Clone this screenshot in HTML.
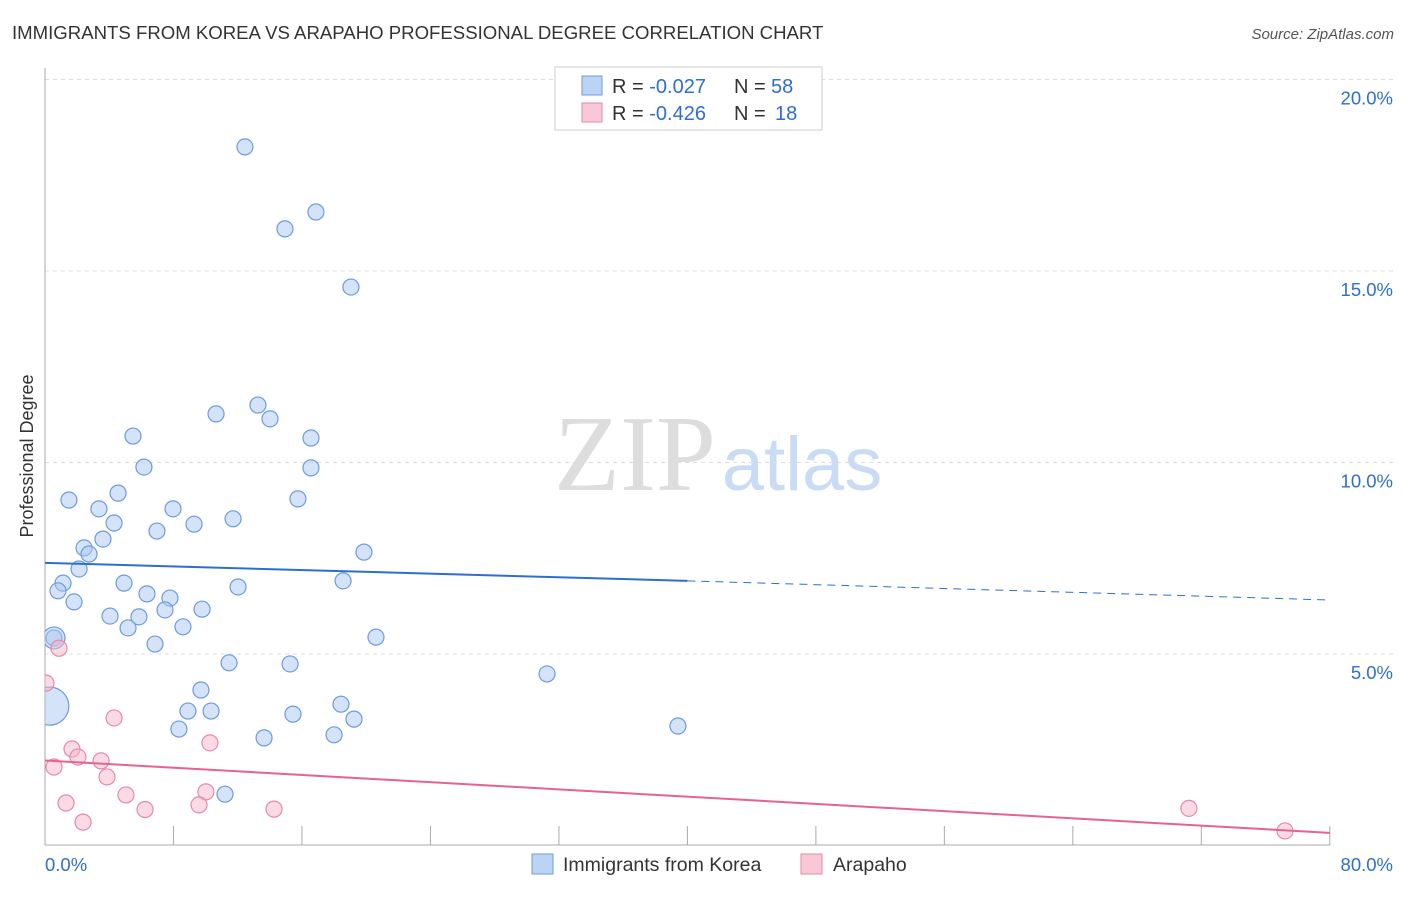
<!DOCTYPE html>
<html><head><meta charset="utf-8"><style>
body{margin:0;background:#fff;font-family:"Liberation Sans",sans-serif;}
</style></head><body>
<svg id="chart" width="1406" height="892" xmlns="http://www.w3.org/2000/svg" font-family="Liberation Sans, sans-serif">
<text x="12" y="39" font-size="18.6" fill="#333">IMMIGRANTS FROM KOREA VS ARAPAHO PROFESSIONAL DEGREE CORRELATION CHART</text>
<text x="1394" y="39" font-size="15" fill="#555" font-style="italic" text-anchor="end">Source: ZipAtlas.com</text>
<text transform="translate(33,456) rotate(-90)" font-size="18" fill="#333" text-anchor="middle">Professional Degree</text>
<g>
<text x="635" y="490" font-size="108" fill="#ddd" font-family="Liberation Serif, serif" text-anchor="middle">ZIP</text>
<text x="802" y="490" font-size="76" fill="#c9dcf3" text-anchor="middle">atlas</text>
</g>
<defs><clipPath id="pc"><rect x="45" y="60" width="1300" height="786"/></clipPath></defs>
<g id="grid"></g><g id="axes"></g><g id="marks" clip-path="url(#pc)"></g>
<g>
<rect x="555" y="67" width="267" height="63" fill="#fff" stroke="#ccc"/>
<rect x="582" y="76" width="20" height="19" fill="#bcd4f3" stroke="#6c9be0"/>
<rect x="582" y="103" width="20" height="19" fill="#f8c8d7" stroke="#e58aa8"/>
<text x="612" y="93" font-size="20" fill="#333">R = <tspan fill="#2d6fd0">-0.027</tspan><tspan x="734">N = </tspan><tspan fill="#2d6fd0" x="771">58</tspan></text>
<text x="612" y="120" font-size="20" fill="#333">R = <tspan fill="#2d6fd0">-0.426</tspan><tspan x="734">N = </tspan><tspan fill="#2d6fd0" x="775">18</tspan></text>
</g>
<g>
<rect x="532" y="854" width="21" height="20" fill="#bcd4f3" stroke="#6c9be0"/>
<text x="563" y="871" font-size="19.5" fill="#333">Immigrants from Korea</text>
<rect x="801" y="854" width="21" height="20" fill="#f8c8d7" stroke="#e58aa8"/>
<text x="833" y="871" font-size="19.5" fill="#333">Arapaho</text>
</g>
</svg>
<script>
const yTicks=[5,10,15,20];
const yTickLabels=["5.0%","10.0%","15.0%","20.0%"];
const xTicks=[8,16,24,32,40,48,56,64,72,80];
const xEndLabels=["0.0%","80.0%"];
const koreaX=[12.45,14.94,16.87,19.05,13.26,10.65,14.01,16.56,5.48,6.16,16.56,1.49,4.55,15.75,3.36,7.97,4.30,9.28,11.71,6.97,3.61,2.43,2.74,19.86,2.12,1.12,0.81,4.92,12.02,18.56,1.81,6.35,7.78,4.05,5.85,7.47,9.78,5.17,8.59,0.56,20.61,6.85,11.46,15.26,31.26,9.71,8.90,10.34,18.43,15.44,19.24,8.34,13.64,18.0,39.41,11.21,0.3,0.56];
const koreaY=[18.24,16.10,16.54,14.58,11.50,11.27,11.14,10.64,10.69,9.88,9.86,9.02,9.20,9.05,8.79,8.79,8.42,8.39,8.53,8.21,8.00,7.77,7.61,7.66,7.22,6.85,6.65,6.85,6.75,6.91,6.36,6.57,6.46,5.99,5.97,6.15,6.17,5.68,5.71,5.42,5.44,5.26,4.77,4.74,4.48,4.06,3.51,3.51,3.69,3.43,3.30,3.04,2.81,2.89,3.12,1.34,3.64,5.42];
const koreaR=[8,8,8,8,8,8,8,8,8,8,8,8,8,8,8,8,8,8,8,8,8,8,8,8,8,8,8,8,8,8,8,8,8,8,8,8,8,8,8,8,8,8,8,8,8,8,8,8,8,8,8,8,8,8,8,8,19,11];
const arapahoX=[0.06,0.87,0.56,1.68,2.05,4.30,3.49,3.86,1.31,5.04,2.37,6.23,10.27,10.02,9.59,14.26,71.23,77.21];
const arapahoY=[4.24,5.15,2.05,2.52,2.31,3.33,2.21,1.79,1.11,1.32,0.61,0.94,2.68,1.40,1.06,0.95,0.97,0.38];
const koreaTrend=[7.38,6.91,6.41];
const arapahoTrend=[2.22,0.33];
const NS="http://www.w3.org/2000/svg";
const X=v=>45+v*16.06, Y=v=>845.5-v*38.3;
function mk(p,t,a){const e=document.createElementNS(NS,t);for(const k in a)e.setAttribute(k,a[k]);document.getElementById(p).appendChild(e);return e;}
yTicks.forEach((t,i)=>{
 const g=mk('grid','line',{x1:45,x2:1394,y1:Y(t),y2:Y(t),stroke:'#ddd','stroke-dasharray':'4,4'});
 
 
 const l=mk('axes','text',{x:1393,y:Y(t)+25,'font-size':18.5,fill:'#2d6fd0','text-anchor':'end'});
 l.textContent=yTickLabels[i];
 
 
});
const ax=mk('axes','line',{x1:45,x2:45,y1:68,y2:845,stroke:'#aaa'});


const bx=mk('axes','line',{x1:45,x2:1330,y1:845,y2:845,stroke:'#aaa'});


xTicks.forEach(t=>{
 const e=mk('axes','line',{x1:X(t),x2:X(t),y1:826,y2:845,stroke:'#aaa'});
 
 
});
[[0,'start',45],[80,'end',1393]].forEach((d,i)=>{
 const l=mk('axes','text',{x:d[2],y:871,'font-size':18.5,fill:'#2d6fd0','text-anchor':d[1]});
 l.textContent=xEndLabels[i];
 
 
});
koreaX.forEach((x,i)=>{
 const c=mk('marks','circle',{cx:X(x),cy:Y(koreaY[i]),r:koreaR[i],fill:'rgba(169,200,240,0.5)',stroke:'#6c9be0','stroke-width':1.2});
 
 
});
arapahoX.forEach((x,i)=>{
 const c=mk('marks','circle',{cx:X(x),cy:Y(arapahoY[i]),r:8,fill:'rgba(245,184,203,0.5)',stroke:'#e58aa8','stroke-width':1.2});
 
 
});
const t1=mk('marks','line',{x1:X(0),y1:Y(koreaTrend[0]),x2:X(40),y2:Y(koreaTrend[1]),stroke:'#2d6fd0','stroke-width':2});


const t2=mk('marks','line',{x1:X(40),y1:Y(koreaTrend[1]),x2:X(80),y2:Y(koreaTrend[2]),stroke:'#2d6fd0','stroke-width':1,'stroke-dasharray':'8,6'});


const t3=mk('marks','line',{x1:X(0),y1:Y(arapahoTrend[0]),x2:X(80),y2:Y(arapahoTrend[1]),stroke:'#e8628e','stroke-width':2});


</script>
</body></html>
